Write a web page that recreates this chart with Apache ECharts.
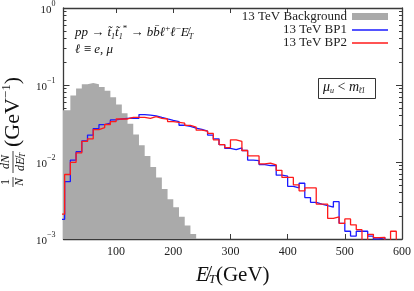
<!DOCTYPE html>
<html><head><meta charset="utf-8">
<script src="https://cdn.jsdelivr.net/npm/echarts@6/dist/echarts.min.js"></script>
<style>html,body{margin:0;padding:0;background:#fff}#c{width:414px;height:291px}</style>
</head><body><div id="c"></div>
<script>
// bin lower edges (GeV), 10 GeV bins
const binStarts = [0,10,20,30,40,50,60,70,80,90,100,110,120,130,140,150,160,170,180,190,200,210,220,230,240,250,260,270,280,290,300,310,320,330,340,350,360,370,380,390,400,410,420,430,440,450,460,470,480,490,500,510,520,530,540,550,560,570,580,590];
const binWidth = 10;
// background (bins 0..230), 0.0004 = below the axis
const bgValues = [0.047,0.047,0.073,0.090,0.102,0.106,0.102,0.0944,0.0841,0.0694,0.0557,0.0430,0.0313,0.0228,0.0165,0.0120,0.0086,0.0063,0.00447,0.00328,0.00259,0.00194,0.00150,0.00116,0.0004];
const bp1Values = [0.0018,0.00557,0.0106,0.0136,0.0188,0.0224,0.0272,0.0305,0.0319,0.0352,0.0362,0.0369,0.0373,0.0369,0.0413,0.0406,0.0398,0.0379,0.0362,0.0348,0.0335,0.0300,0.0290,0.0276,0.0266,0.0251,0.0224,0.0200,0.0168,0.0150,0.0145,0.0153,0.0141,0.0106,0.0104,0.00925,0.0090,0.0090,0.00674,0.00655,0.00483,0.0046,0.0053,0.00345,0.00299,0.00284,0.00271,0.00259,0.00305,0.0016,0.00126,0.00109,0.00126,0.00126,0.00109,0.0010,0.00104,0.0004,0.0004,0.0004];
const bp2Values = [0.0021,0.00688,0.0099,0.0131,0.0185,0.0200,0.0264,0.0279,0.0307,0.0335,0.0362,0.0362,0.0379,0.0379,0.0379,0.0369,0.0387,0.0369,0.0362,0.0335,0.0328,0.0319,0.0299,0.0284,0.0259,0.0251,0.0235,0.0194,0.0168,0.0154,0.0194,0.0185,0.0141,0.0120,0.0120,0.00944,0.00964,0.00918,0.00779,0.0063,0.0063,0.00506,0.00422,0.0046,0.0046,0.00284,0.00284,0.00185,0.00194,0.0016,0.00182,0.00153,0.00132,0.0004,0.00115,0.00104,0.00105,0.0004,0.00126,0.0004];
const xTicks = [100,200,300,400,500,600];
const yMajor = [0.001,0.01,0.1,1];
const yMinor = [0.002,0.003,0.004,0.005,0.006,0.007,0.008,0.009,0.02,0.03,0.04,0.05,0.06,0.07,0.08,0.09,0.2,0.3,0.4,0.5,0.6,0.7,0.8,0.9];
const seriesNames = ['13 TeV Background','13 TeV BP1','13 TeV BP2'];

function histData(values){
  const d = values.map((v,i)=>[binStarts[i], v]);
  const last = values.length-1;
  d.push([binStarts[last]+binWidth, values[last]]);
  return d;
}

const SERIF = '"Liberation Serif","DejaVu Serif",serif';
const axisCol = '#3a3a3a';
const chart = echarts.init(document.getElementById('c'), null, {renderer:'canvas'});

const yBase = {type:'log', logBase:10, min:0.001, max:1, splitLine:{show:false}, gridIndex:0};
const option = {
  animation:false,
  grid:{left:63.5, right:12, top:8, bottom:43},
  xAxis:[
    {type:'value', min:8, max:600, position:'bottom',
     axisLine:{show:true, onZero:false, lineStyle:{color:axisCol, width:1.3}},
     axisTick:{show:true, inside:true, length:5, customValues:xTicks, lineStyle:{color:axisCol}},
     axisLabel:{customValues:xTicks, fontFamily:SERIF, fontSize:12, color:'#222', margin:7},
     splitLine:{show:false},
     name:'{e|E\u0338}{s|T}{n|(GeV)}', nameLocation:'middle', nameGap:26,
     nameTextStyle:{rich:{
       e:{fontFamily:SERIF, fontStyle:'italic', fontSize:21, color:'#111'},
       s:{fontFamily:SERIF, fontStyle:'italic', fontSize:13, color:'#111', verticalAlign:'bottom', padding:[8,0,0,0]},
       n:{fontFamily:SERIF, fontSize:21, color:'#111'}}}},
    {type:'value', min:8, max:600, position:'top',
     axisLine:{show:true, onZero:false, lineStyle:{color:axisCol, width:1.3}},
     axisTick:{show:true, inside:true, length:5, customValues:xTicks, lineStyle:{color:axisCol}},
     axisLabel:{show:false}, splitLine:{show:false}}
  ],
  yAxis:[
    Object.assign({}, yBase, {position:'left',
      axisLine:{show:true, onZero:false, lineStyle:{color:axisCol, width:1.3}},
      axisTick:{show:true, inside:true, length:6, customValues:yMajor, lineStyle:{color:axisCol}},
      axisLabel:{customValues:yMajor, margin:8, formatter:function(v){
        const e = Math.round(Math.log10(v));
        return '{b|10}{s|' + (e===0?'0':'\u2212'+(-e)) + '}';
      }, rich:{
        b:{fontFamily:SERIF, fontSize:11, color:'#222', lineHeight:16, verticalAlign:'bottom'},
        s:{fontFamily:SERIF, fontSize:8, color:'#222', lineHeight:10, verticalAlign:'top'}}}}),
    Object.assign({}, yBase, {position:'left',
      axisLine:{show:false}, axisLabel:{show:false},
      axisTick:{show:true, inside:true, length:3, customValues:yMinor, lineStyle:{color:axisCol}}}),
    Object.assign({}, yBase, {position:'right',
      axisLine:{show:true, onZero:false, lineStyle:{color:axisCol, width:1.3}},
      axisLabel:{show:false},
      axisTick:{show:true, inside:true, length:6, customValues:yMajor, lineStyle:{color:axisCol}}}),
    Object.assign({}, yBase, {position:'right',
      axisLine:{show:false}, axisLabel:{show:false},
      axisTick:{show:true, inside:true, length:3, customValues:yMinor, lineStyle:{color:axisCol}}})
  ],
  legend:[
    {data:[seriesNames[0]], right:26, top:10, align:'right', padding:0, icon:'rect', itemWidth:36, itemHeight:7,
     textStyle:{fontFamily:SERIF, fontSize:13, color:'#222'}},
    {data:[seriesNames[1]], right:26, top:23.5, align:'right', padding:0, icon:'rect', itemWidth:36, itemHeight:1.6,
     textStyle:{fontFamily:SERIF, fontSize:13, color:'#222'}},
    {data:[seriesNames[2]], right:26, top:36.5, align:'right', padding:0, icon:'rect', itemWidth:36, itemHeight:1.6,
     textStyle:{fontFamily:SERIF, fontSize:13, color:'#222'}}
  ],
  series:[
    {name:seriesNames[0], type:'line', step:'end', data:histData(bgValues), symbol:'none',
     xAxisIndex:0, yAxisIndex:0, z:1,
     itemStyle:{color:'#aaaaaa'}, lineStyle:{width:0, color:'#aaaaaa'},
     areaStyle:{color:'#aaaaaa', opacity:1, origin:'start'}},
    {name:seriesNames[1], type:'line', step:'end', data:histData(bp1Values), symbol:'none',
     xAxisIndex:0, yAxisIndex:0, z:3,
     itemStyle:{color:'#1a1aff'}, lineStyle:{width:1.3, color:'#1a1aff'}},
    {name:seriesNames[2], type:'line', step:'end', data:histData(bp2Values), symbol:'none',
     xAxisIndex:0, yAxisIndex:0, z:4,
     itemStyle:{color:'#ff1a1a'}, lineStyle:{width:1.3, color:'#ff1a1a'}}
  ],
  graphic:[
    // y-axis title (rotated)
    {type:'group', x:13, y:130, rotation:Math.PI/2, children:[
      {type:'text', x:-52, y:-1, style:{text:'1', font:'12px '+SERIF, fill:'#111', textAlign:'center', textVerticalAlign:'bottom', align:'center', verticalAlign:'bottom'}},
      {type:'line', shape:{x1:-57, y1:0, x2:-47, y2:0}, style:{stroke:'#111', lineWidth:0.8}},
      {type:'text', x:-52, y:1, style:{text:'N', font:'italic 12px '+SERIF, fill:'#111', textAlign:'center', textVerticalAlign:'top', align:'center', verticalAlign:'top'}},
      {type:'text', x:-32, y:-1, style:{text:'dN', font:'italic 12px '+SERIF, fill:'#111', textAlign:'center', textVerticalAlign:'bottom', align:'center', verticalAlign:'bottom'}},
      {type:'line', shape:{x1:-43, y1:0, x2:-21, y2:0}, style:{stroke:'#111', lineWidth:0.8}},
      {type:'text', x:-32, y:1, style:{text:'{i|dE\u0338}{s|T}', rich:{
          i:{fontFamily:SERIF, fontStyle:'italic', fontSize:12, fill:'#111', color:'#111'},
          s:{fontFamily:SERIF, fontStyle:'italic', fontSize:8, fill:'#111', color:'#111', verticalAlign:'bottom', padding:[5,0,0,0]}},
          textAlign:'center', textVerticalAlign:'top', align:'center', verticalAlign:'top'}},
      {type:'text', x:-17, y:-1, style:{text:'{n|(GeV}{s|\u22121}{n|)}', rich:{
          n:{fontFamily:SERIF, fontSize:22, fill:'#111', color:'#111', lineHeight:24, verticalAlign:'bottom'},
          s:{fontFamily:SERIF, fontSize:13, fill:'#111', color:'#111', lineHeight:13, verticalAlign:'top'}},
          textAlign:'left', textVerticalAlign:'middle', align:'left', verticalAlign:'middle'}}
    ]},
    // process annotation
    {type:'text', left:75, top:24, style:{
      text:'{i|pp} \u2192 {i|t\u0303}{b|1}{i|t\u0303}{b|1}{p|*} \u2192 {i|bb\u0304\u2113}{p|+}{i|\u2113}{p|\u2212}{i|E\u0338}{b|T}\n{i|\u2113} \u2261 {i|e}, {i|\u03bc}',
      rich:{
        i:{fontFamily:SERIF, fontStyle:'italic', fontSize:13, color:'#111', lineHeight:17},
        b:{fontFamily:SERIF, fontStyle:'italic', fontSize:8, color:'#111', verticalAlign:'bottom', lineHeight:17, padding:[6,0,0,0]},
        p:{fontFamily:SERIF, fontSize:9, color:'#111', verticalAlign:'top', lineHeight:17, padding:[0,0,6,0]}},
      font:'13px '+SERIF, fill:'#111', lineHeight:17}},
    // mu box
    {type:'rect', left:318, top:78, shape:{width:57, height:20}, style:{fill:'#fff', stroke:'#333', lineWidth:1}},
    {type:'text', left:323, top:80, style:{
      text:'{i|\u03bc}{b|u} < {i|m}{b|t\u03031}',
      rich:{
        i:{fontFamily:SERIF, fontStyle:'italic', fontSize:14, color:'#111', lineHeight:16},
        b:{fontFamily:SERIF, fontStyle:'italic', fontSize:8, color:'#111', verticalAlign:'bottom', lineHeight:16, padding:[6,0,0,0]}},
      font:'14px '+SERIF, fill:'#111'}}
  ]
};
chart.setOption(option);
</script></body></html>
